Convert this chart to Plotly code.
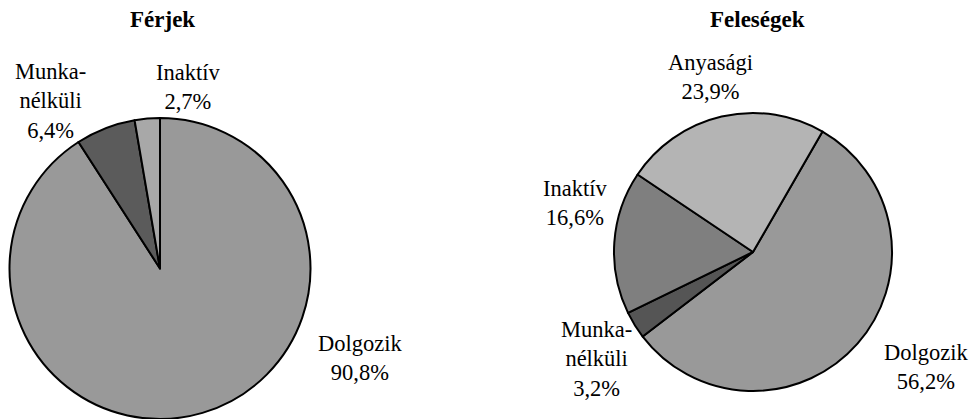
import plotly.graph_objects as go

# The page body adds an 8px margin, so the figure is made 8px smaller and
# all reference pixel positions are shifted by -8.
OFF = 8
W, H = 979 - OFF, 419 - OFF

# Data
categories_ferjek = ["Dolgozik", "Munkanélküli", "Inaktív"]
values_ferjek = [90.8, 6.4, 2.7]
categories_felesegek = ["Dolgozik", "Munkanélküli", "Inaktív", "Anyasági"]
values_felesegek = [56.2, 3.2, 16.6, 23.9]
display_names = {"Dolgozik": "Dolgozik", "Munkanélküli": "Munka-<br>nélküli",
                 "Inaktív": "Inaktív", "Anyasági": "Anyasági"}
titles = ["Férjek", "Feleségek"]

FONT = "Liberation Serif"

def px_x(x):
    return (x - OFF) / W

def px_y(y):
    return 1 - (y - OFF) / H

def clamp(v):
    return max(0.0, min(1.0, v))

fig = go.Figure()

# Left pie: centre (160, 268.5), radius ~150.5
fig.add_trace(go.Pie(
    labels=categories_ferjek, values=values_ferjek, sort=False,
    direction="clockwise", rotation=0, textinfo="none",
    domain=dict(x=[clamp(px_x(9.5)), clamp(px_x(310.5))],
                y=[0.0, clamp(px_y(118))]),
    marker=dict(
        colors=["#999999", "#5e5e5e", "#ababab"],
        line=dict(color="#000000", width=2),
        pattern=dict(shape=["", ".", "."],
                     bgcolor=["#999999", "#6c6c6c", "#cccccc"],
                     fgcolor=["#999999", "#444444", "#7a7a7a"],
                     size=2, solidity=0.5),
    ),
    showlegend=False,
))

# Right pie: centre (753, 252), radius ~139
fig.add_trace(go.Pie(
    labels=categories_felesegek, values=values_felesegek, sort=False,
    direction="clockwise", rotation=30, textinfo="none",
    domain=dict(x=[px_x(614), px_x(892)], y=[px_y(391), px_y(113)]),
    marker=dict(
        colors=["#999999", "#555555", "#7e7e7e", "#b8b8b8"],
        line=dict(color="#000000", width=2),
        pattern=dict(shape=["", ".", ".", "."],
                     bgcolor=["#999999", "#5e5e5e", "#999999", "#ffffff"],
                     fgcolor=["#999999", "#4a4a4a", "#5e5e5e", "#555555"],
                     size=2, solidity=0.5),
    ),
    showlegend=False,
))

def fmt(v):
    return f"{v:.1f}%".replace(".", ",")

annotations = []
# Titles
for t, (x, y) in zip(titles, [(162, 20), (757, 20)]):
    annotations.append(dict(text=f"<b>{t}</b>", x=px_x(x), y=px_y(y),
                            xref="paper", yref="paper", showarrow=False,
                            xanchor="center", yanchor="middle",
                            font=dict(family=FONT, size=23, color="#000")))

label_pos_ferjek = {"Dolgozik": (360, 358), "Munkanélküli": (50, 101), "Inaktív": (188, 87)}
label_pos_felesegek = {"Dolgozik": (926, 367), "Munkanélküli": (596, 359),
                       "Inaktív": (575, 203), "Anyasági": (710, 77)}

for cats, vals, pos in [(categories_ferjek, values_ferjek, label_pos_ferjek),
                        (categories_felesegek, values_felesegek, label_pos_felesegek)]:
    for c, v in zip(cats, vals):
        x, y = pos[c]
        annotations.append(dict(text=f"{display_names[c]}<br>{fmt(v)}",
                                x=px_x(x), y=px_y(y), xref="paper", yref="paper",
                                showarrow=False, xanchor="center", yanchor="middle",
                                align="center",
                                font=dict(family=FONT, size=22.5, color="#000")))

fig.update_layout(
    width=W, height=H,
    margin=dict(l=0, r=0, t=0, b=0),
    paper_bgcolor="#ffffff", plot_bgcolor="#ffffff",
    annotations=annotations,
)

fig.write_html("out.html")
